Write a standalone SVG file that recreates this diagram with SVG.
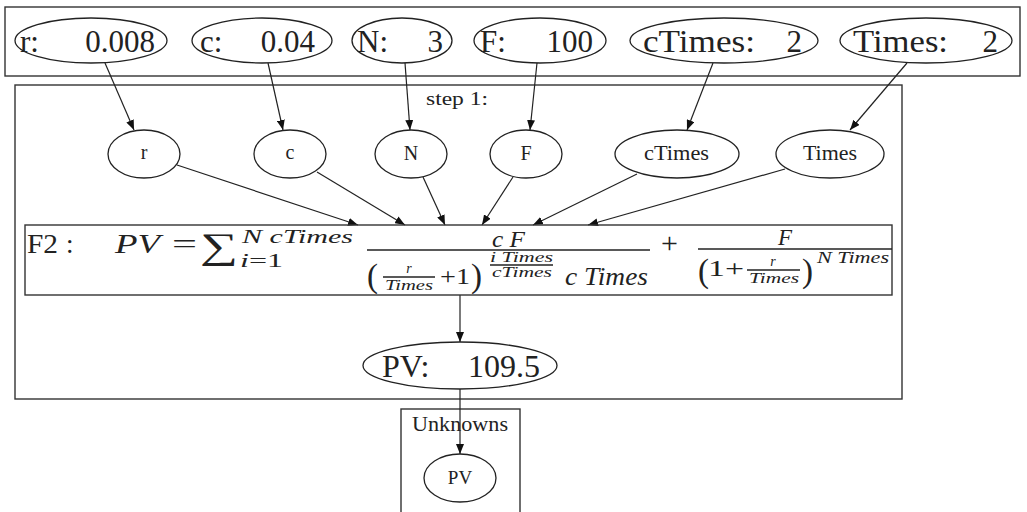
<svg xmlns="http://www.w3.org/2000/svg" width="1027" height="512" viewBox="0 0 1027 512">
<style>
  .box{fill:none;stroke:#333;stroke-width:1.4}
  .node{fill:#fff;stroke:#222;stroke-width:1.3}
  .t{font-family:"Liberation Serif","DejaVu Serif",serif;fill:#222}
  .i{font-style:italic}
  .e{stroke:#222;stroke-width:1.2;fill:none}
  .fl{stroke:#222;stroke-width:1.3}
</style>
<defs>
  <marker id="arr" markerUnits="userSpaceOnUse" markerWidth="11" markerHeight="8" refX="10" refY="4" orient="auto">
    <path d="M0,0 L10,4 L0,8 z" fill="#111"/>
  </marker>
</defs>
<rect width="1027" height="512" fill="#fff"/>

<g id="inputs-cluster">
  <rect class="box" x="5" y="7" width="1015" height="69"/>
</g>
<g id="step1-cluster">
  <rect class="box" x="15" y="85" width="887" height="314"/>
  <text class="t" x="426" y="105" font-size="19" textLength="62" lengthAdjust="spacingAndGlyphs">step 1:</text>
</g>
<g id="unknowns-cluster">
  <rect class="box" x="401" y="409" width="119" height="110"/>
  <text class="t" x="412" y="431" font-size="20" textLength="96" lengthAdjust="spacingAndGlyphs">Unknowns</text>
</g>

<g id="connectors">
  <line class="e" x1="105" y1="63" x2="134" y2="130" marker-end="url(#arr)"/>
  <line class="e" x1="268" y1="63" x2="283" y2="130" marker-end="url(#arr)"/>
  <line class="e" x1="405" y1="63" x2="410" y2="130" marker-end="url(#arr)"/>
  <line class="e" x1="537" y1="63" x2="530" y2="130" marker-end="url(#arr)"/>
  <line class="e" x1="713" y1="63" x2="687" y2="130" marker-end="url(#arr)"/>
  <line class="e" x1="907" y1="63" x2="850" y2="130" marker-end="url(#arr)"/>
  <line class="e" x1="177" y1="165" x2="358" y2="225" marker-end="url(#arr)"/>
  <line class="e" x1="317" y1="172" x2="405" y2="225" marker-end="url(#arr)"/>
  <line class="e" x1="423" y1="177" x2="445" y2="225" marker-end="url(#arr)"/>
  <line class="e" x1="513" y1="177" x2="482" y2="225" marker-end="url(#arr)"/>
  <line class="e" x1="637" y1="174" x2="533" y2="225" marker-end="url(#arr)"/>
  <line class="e" x1="785" y1="169" x2="588" y2="225" marker-end="url(#arr)"/>
  <line class="e" x1="460" y1="295" x2="460" y2="342" marker-end="url(#arr)"/>
  <line class="e" x1="460" y1="389" x2="460" y2="454" marker-end="url(#arr)"/>
</g>

<g id="in-r">
  <ellipse class="node" cx="91" cy="40.5" rx="76" ry="22.5"/>
  <text class="t" x="20" y="52" font-size="31">r:</text>
  <text class="t" x="155" y="52" font-size="31" text-anchor="end">0.008</text>
</g>
<g id="in-c">
  <ellipse class="node" cx="262" cy="40.5" rx="70" ry="22.5"/>
  <text class="t" x="200" y="52" font-size="31">c:</text>
  <text class="t" x="315" y="52" font-size="31" text-anchor="end">0.04</text>
</g>
<g id="in-N">
  <ellipse class="node" cx="402" cy="40.5" rx="50" ry="22.5"/>
  <text class="t" x="357" y="52" font-size="31">N:</text>
  <text class="t" x="443" y="52" font-size="31" text-anchor="end">3</text>
</g>
<g id="in-F">
  <ellipse class="node" cx="540" cy="40.5" rx="66" ry="22.5"/>
  <text class="t" x="480" y="52" font-size="31">F:</text>
  <text class="t" x="593" y="52" font-size="31" text-anchor="end">100</text>
</g>
<g id="in-cTimes">
  <ellipse class="node" cx="724" cy="40.5" rx="94" ry="22.5"/>
  <text class="t" x="643" y="52" font-size="31" textLength="112" lengthAdjust="spacingAndGlyphs">cTimes:</text>
  <text class="t" x="802" y="52" font-size="31" text-anchor="end">2</text>
</g>
<g id="in-Times">
  <ellipse class="node" cx="926" cy="40.5" rx="86" ry="22.5"/>
  <text class="t" x="853" y="52" font-size="31" textLength="95" lengthAdjust="spacingAndGlyphs">Times:</text>
  <text class="t" x="998" y="52" font-size="31" text-anchor="end">2</text>
</g>

<g id="var-r">
  <ellipse class="node" cx="144" cy="154" rx="36" ry="24"/>
  <text class="t" x="144" y="159" font-size="20" text-anchor="middle">r</text>
</g>
<g id="var-c">
  <ellipse class="node" cx="290" cy="154" rx="36" ry="24"/>
  <text class="t" x="290" y="159" font-size="20" text-anchor="middle">c</text>
</g>
<g id="var-N">
  <ellipse class="node" cx="411" cy="154" rx="36" ry="24"/>
  <text class="t" x="411" y="160" font-size="20" text-anchor="middle">N</text>
</g>
<g id="var-F">
  <ellipse class="node" cx="526" cy="154" rx="36" ry="24"/>
  <text class="t" x="526" y="160" font-size="20" text-anchor="middle">F</text>
</g>
<g id="var-cTimes">
  <ellipse class="node" cx="677" cy="154" rx="62" ry="24"/>
  <text class="t" x="644" y="160" font-size="20" textLength="65" lengthAdjust="spacingAndGlyphs">cTimes</text>
</g>
<g id="var-Times">
  <ellipse class="node" cx="830" cy="154" rx="54" ry="24"/>
  <text class="t" x="803" y="160" font-size="20" textLength="54" lengthAdjust="spacingAndGlyphs">Times</text>
</g>

<g id="formula-F2">
  <rect class="box" x="25" y="225" width="867" height="70" fill="#fff"/>
  <text class="t" x="27" y="253" font-size="27" textLength="31" lengthAdjust="spacingAndGlyphs">F2</text>
  <text class="t" x="66" y="253" font-size="27">:</text>
  <text class="t i" x="115" y="253" font-size="28" textLength="45" lengthAdjust="spacingAndGlyphs">PV</text>
  <text class="t" x="172" y="253" font-size="27" textLength="25" lengthAdjust="spacingAndGlyphs">=</text>
  <text class="t" x="200" y="258" font-size="36" textLength="38" lengthAdjust="spacingAndGlyphs">∑</text>
  <text class="t i" x="242" y="243" font-size="19" textLength="111" lengthAdjust="spacingAndGlyphs">N cTimes</text>
  <text class="t" x="240" y="267" font-size="19" textLength="43" lengthAdjust="spacingAndGlyphs"><tspan class="i">i</tspan>=1</text>
  <line class="fl" x1="367" y1="250" x2="650" y2="250"/>
  <text class="t i" x="492" y="247" font-size="23" textLength="33" lengthAdjust="spacingAndGlyphs">c F</text>
  <text class="t" x="367" y="287" font-size="33">(</text>
  <text class="t i" x="409" y="273" font-size="14" text-anchor="middle">r</text>
  <line class="fl" x1="383" y1="277" x2="435" y2="277" stroke-width="1"/>
  <text class="t i" x="385" y="290" font-size="14" textLength="48" lengthAdjust="spacingAndGlyphs">Times</text>
  <text class="t" x="440" y="284" font-size="24" textLength="30" lengthAdjust="spacingAndGlyphs">+1</text>
  <text class="t" x="471" y="287" font-size="33">)</text>
  <text class="t i" x="490" y="262" font-size="14" textLength="63" lengthAdjust="spacingAndGlyphs">i Times</text>
  <line class="fl" x1="490" y1="265" x2="553" y2="265" stroke-width="1"/>
  <text class="t i" x="492" y="277" font-size="14" textLength="60" lengthAdjust="spacingAndGlyphs">cTimes</text>
  <text class="t i" x="565" y="285" font-size="26" textLength="83" lengthAdjust="spacingAndGlyphs">c Times</text>
  <text class="t" x="661" y="253" font-size="30">+</text>
  <line class="fl" x1="698" y1="249" x2="892" y2="249"/>
  <text class="t i" x="778" y="245" font-size="23">F</text>
  <text class="t" x="698" y="282" font-size="33">(</text>
  <text class="t" x="708" y="276" font-size="24" textLength="36" lengthAdjust="spacingAndGlyphs">1+</text>
  <text class="t i" x="773" y="266" font-size="14" text-anchor="middle">r</text>
  <line class="fl" x1="747" y1="270" x2="800" y2="270" stroke-width="1"/>
  <text class="t i" x="749" y="283" font-size="14" textLength="50" lengthAdjust="spacingAndGlyphs">Times</text>
  <text class="t" x="802" y="282" font-size="33">)</text>
  <text class="t i" x="817" y="263" font-size="16" textLength="72" lengthAdjust="spacingAndGlyphs">N Times</text>
</g>

<g id="result-PV">
  <ellipse class="node" cx="460" cy="365.5" rx="97" ry="23.5"/>
  <text class="t" x="382" y="377" font-size="32">PV:</text>
  <text class="t" x="540" y="377" font-size="32" text-anchor="end">109.5</text>
</g>
<g id="unknown-PV">
  <ellipse class="node" cx="460" cy="478" rx="36" ry="24"/>
  <text class="t" x="460" y="484" font-size="19" text-anchor="middle">PV</text>
</g>
</svg>
